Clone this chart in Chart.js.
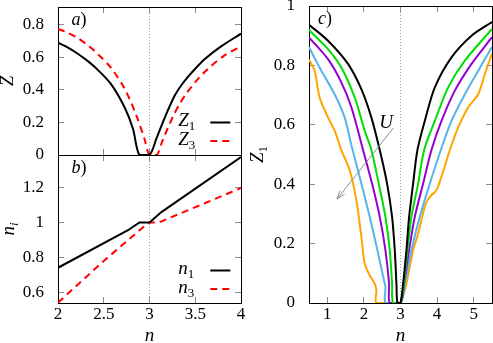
<!DOCTYPE html>
<html><head><meta charset="utf-8">
<script src="https://cdn.jsdelivr.net/npm/chart.js@4.4.1/dist/chart.umd.min.js"></script>
<style>
html,body{margin:0;padding:0;background:#fff;}
#wrap{position:relative;width:493px;height:343px;overflow:hidden;background:#fff}
canvas{position:absolute;top:0}
</style></head><body>
<div id="wrap">
<canvas id="ca" width="250" height="343" style="left:0"></canvas>
<canvas id="cb" width="250" height="343" style="left:0"></canvas>
<canvas id="cc" width="243" height="343" style="left:250px"></canvas>
</div>
<script>
// ---------- Panel a) : Z vs n ----------
const aZ1_n = [2.0, 2.1, 2.216, 2.33, 2.435, 2.58, 2.73, 2.82, 2.89, 3.0, 3.075, 3.167, 3.276, 3.35, 3.42, 3.5, 3.605, 3.79, 4.0];
const aZ1_v = [0.69, 0.662, 0.622, 0.575, 0.523, 0.435, 0.29, 0.16, 0.0, 0.0, 0.10, 0.23, 0.365, 0.43, 0.48, 0.53, 0.59, 0.67, 0.745];
const aZ3_n = [2.0, 2.1, 2.216, 2.33, 2.435, 2.58, 2.73, 2.855, 2.947, 3.0, 3.08, 3.14, 3.2, 3.26, 3.33, 3.4, 3.46, 3.55, 3.64, 3.82, 4.0];
const aZ3_v = [0.775, 0.752, 0.718, 0.672, 0.62, 0.535, 0.405, 0.245, 0.095, 0.0, 0.0, 0.085, 0.165, 0.24, 0.315, 0.375, 0.42, 0.48, 0.53, 0.612, 0.667];
const aXTicks = [2, 2.5, 3, 3.5, 4];
const aYTicks = [0, 0.2, 0.4, 0.6, 0.8];

// ---------- Panel b) : n_i vs n ----------
const bN1_n = [2.0, 2.765, 2.89, 3.0, 3.13, 4.0];
const bN1_v = [0.741, 0.956, 1.0, 1.0, 1.06, 1.375];
const bN3_n = [2.0, 2.5, 2.965, 3.0, 3.1, 4.0];
const bN3_v = [0.541, 0.78, 0.989, 1.0, 1.0, 1.198];
const bXTicks = [2, 2.5, 3, 3.5, 4];
const bYTicks = [0.6, 0.8, 1, 1.2];

// ---------- Panel c) : Z_1 vs n for increasing U ----------
const c0_n = [0.5, 1.019, 1.566, 1.93, 2.203, 2.433, 2.633, 2.77, 2.843, 2.889, 2.916, 3.0, 3.071, 3.162, 3.235, 3.345, 3.463, 3.664, 3.938, 4.393, 4.941, 5.5];
const c0_v = [0.937, 0.883, 0.805, 0.72, 0.625, 0.515, 0.402, 0.29, 0.178, 0.065, 0, 0, 0.065, 0.178, 0.29, 0.402, 0.515, 0.613, 0.726, 0.827, 0.9, 0.946];
const c1_n = [0.5, 1.019, 1.383, 1.749, 2.022, 2.205, 2.405, 2.588, 2.706, 2.77, 2.797, 3.0, 3.089, 3.19, 3.299, 3.482, 3.646, 3.938, 4.302, 4.758, 5.5];
const c1_v = [0.919, 0.855, 0.793, 0.692, 0.58, 0.515, 0.402, 0.29, 0.178, 0.065, 0, 0, 0.065, 0.178, 0.29, 0.402, 0.515, 0.613, 0.726, 0.816, 0.923];
const c2_n = [0.5, 1.019, 1.383, 1.658, 1.977, 2.223, 2.433, 2.588, 2.688, 2.706, 3.0, 3.098, 3.235, 3.39, 3.618, 3.846, 4.12, 4.485, 4.941, 5.5];
const c2_v = [0.894, 0.821, 0.743, 0.659, 0.515, 0.402, 0.29, 0.178, 0.065, 0, 0, 0.065, 0.178, 0.29, 0.402, 0.515, 0.613, 0.715, 0.805, 0.895];
const c3_n = [0.5, 0.837, 1.2, 1.474, 1.66, 1.931, 2.159, 2.368, 2.57, 2.588, 2.595, 3.0, 3.117, 3.299, 3.527, 3.801, 4.102, 4.393, 4.758, 5.123, 5.5];
const c3_v = [0.861, 0.782, 0.703, 0.625, 0.53, 0.402, 0.29, 0.178, 0.065, 0.054, 0, 0, 0.065, 0.178, 0.29, 0.402, 0.515, 0.613, 0.703, 0.782, 0.862];
const c4_n = [0.5, 0.654, 0.79, 1.019, 1.2, 1.383, 1.612, 1.794, 1.931, 2.022, 2.159, 2.296, 2.341, 2.346, 3.0, 3.01, 3.162, 3.254, 3.345, 3.482, 3.664, 3.737, 3.846, 3.983, 4.147, 4.348, 4.576, 4.85, 5.123, 5.306, 5.5];
const c4_v = [0.82, 0.782, 0.692, 0.625, 0.58, 0.515, 0.447, 0.346, 0.223, 0.133, 0.093, 0.065, 0.043, 0, 0, 0, 0.065, 0.122, 0.178, 0.234, 0.324, 0.346, 0.363, 0.38, 0.436, 0.515, 0.591, 0.659, 0.703, 0.771, 0.84];
const cColors = ['#000000', '#00dd00', '#9400d3', '#56b4e9', '#ffa500'];
const cXTicks = [1, 2, 3, 4, 5];
const cYTicks = [0, 0.2, 0.4, 0.6, 0.8, 1];
const cArrow = [2.81, 0.59, 1.265, 0.35];   // U arrow: from (n,Z) to (n,Z)
const cArrowLabel = [2.606, 0.588];         // position of "U"

// ---------- helpers ----------
const SERIF = '"Liberation Serif", "DejaVu Serif", serif';
const pts = (xs, ys) => xs.map((x, i) => ({x: x, y: ys[i]}));

function mathText(ctx, parts, x, y, align) {
  let w = 0;
  const items = parts.map(p => {
    const f = (p.it ? 'italic ' : '') + p.size + 'px ' + SERIF;
    ctx.font = f;
    const m = ctx.measureText(p.t).width;
    w += m + (p.gap || 0);
    return Object.assign({}, p, {f: f, w: m});
  });
  let cx = align === 'center' ? x - w / 2 : (align === 'right' ? x - w : x);
  ctx.textAlign = 'left';
  ctx.textBaseline = 'alphabetic';
  ctx.fillStyle = '#000';
  for (const it of items) {
    ctx.font = it.f;
    ctx.fillText(it.t, cx, y + (it.dy || 0));
    cx += it.w + (it.gap || 0);
  }
}
function parseLabel(s, size) {
  const sp = s.split('_');
  const parts = [{t: sp[0], it: true, size: size}];
  if (sp[1]) parts.push({t: sp[1], it: /[a-z]/.test(sp[1]), size: Math.round(size * 0.7), dy: size * 0.23, gap: 0});
  return parts;
}

const decor = {
  id: 'decor',
  beforeDatasetsDraw(chart, args, o) {
    const ctx = chart.ctx, a = chart.chartArea, x = chart.scales.x, y = chart.scales.y;
    ctx.save();
    if (o.vline != null) {
      const px = Math.floor(x.getPixelForValue(o.vline)) + 0.5;
      ctx.strokeStyle = '#9a9a9a'; ctx.lineWidth = 1; ctx.setLineDash([1, 2]);
      ctx.beginPath(); ctx.moveTo(px, a.top); ctx.lineTo(px, a.bottom); ctx.stroke();
      ctx.setLineDash([]);
    }
    ctx.strokeStyle = '#8a8a8a'; ctx.lineWidth = 1;
    ctx.beginPath();
    for (const v of o.xTicks) {
      const px = Math.floor(x.getPixelForValue(v)) + 0.5;
      ctx.moveTo(px, a.bottom); ctx.lineTo(px, a.bottom - 6);
      ctx.moveTo(px, a.top); ctx.lineTo(px, a.top + 6);
    }
    for (const v of o.yTicks) {
      const py = Math.floor(y.getPixelForValue(v)) + 0.5;
      ctx.moveTo(a.left, py); ctx.lineTo(a.left + 6, py);
      ctx.moveTo(a.right, py); ctx.lineTo(a.right - 6, py);
    }
    ctx.stroke();
    ctx.strokeStyle = '#000'; ctx.lineWidth = 1;
    const l = Math.floor(a.left) + 0.5, t = Math.floor(a.top) + 0.5;
    const r = Math.floor(a.right) + 0.5, b = Math.floor(a.bottom) + 0.5;
    ctx.strokeRect(l, t, r - l, b - t);
    ctx.restore();
  },
  afterDatasetsDraw(chart, args, o) {
    const ctx = chart.ctx, a = chart.chartArea, x = chart.scales.x, y = chart.scales.y;
    ctx.save();
    if (o.panel) mathText(ctx, o.panel.parts, a.left + o.panel.dx, a.top + 18, 'left');
    if (o.yTitle) {
      ctx.save();
      ctx.translate(o.yTitle.x, (a.top + a.bottom) / 2);
      ctx.rotate(-Math.PI / 2);
      mathText(ctx, parseLabel(o.yTitle.text, 19), 0, 0, 'center');
      ctx.restore();
    }
    if (o.xTitle) mathText(ctx, parseLabel(o.xTitle, 19), (a.left + a.right) / 2, 340.5, 'center');
    if (o.legend) {
      chart.data.datasets.forEach((ds, i) => {
        const ly = a.bottom - 32.5 + i * 18.5;
        mathText(ctx, parseLabel(ds.label, 19), a.right - 62.7, ly + 3.5, 'left');
        ctx.strokeStyle = ds.borderColor; ctx.lineWidth = ds.borderWidth;
        ctx.setLineDash(ds.borderDash || []);
        ctx.beginPath(); ctx.moveTo(a.right - 30.7, ly); ctx.lineTo(a.right - 10.7, ly); ctx.stroke();
        ctx.setLineDash([]);
      });
    }
    if (o.arrow) {
      const x0 = x.getPixelForValue(o.arrow[0]), y0 = y.getPixelForValue(o.arrow[1]);
      const x1 = x.getPixelForValue(o.arrow[2]), y1 = y.getPixelForValue(o.arrow[3]);
      const ang = Math.atan2(y1 - y0, x1 - x0);
      ctx.strokeStyle = '#8c8c8c'; ctx.lineWidth = 1;
      ctx.beginPath(); ctx.moveTo(x0, y0); ctx.lineTo(x1, y1);
      const hl = 9, ha = 0.33;
      ctx.moveTo(x1, y1); ctx.lineTo(x1 - hl * Math.cos(ang - ha), y1 - hl * Math.sin(ang - ha));
      ctx.moveTo(x1, y1); ctx.lineTo(x1 - hl * Math.cos(ang + ha), y1 - hl * Math.sin(ang + ha));
      ctx.stroke();
    }
    if (o.arrowLabel) {
      mathText(ctx, [{t: o.arrowLabel.text, it: true, size: 19}],
        x.getPixelForValue(o.arrowLabel.pos[0]), y.getPixelForValue(o.arrowLabel.pos[1]), 'center');
    }
    ctx.restore();
  }
};

Chart.defaults.font.family = SERIF;
Chart.defaults.font.size = 17;
Chart.defaults.color = '#000';

function axis(min, max, ticks, opt) {
  return Object.assign({
    type: 'linear', min: min, max: max,
    afterBuildTicks: s => { s.ticks = ticks.map(v => ({value: v})); },
    ticks: {callback: v => String(v), color: '#000', font: {family: SERIF, size: 17}, autoSkip: false, maxRotation: 0, padding: 14},
    grid: {display: false, drawTicks: false},
    border: {display: false},
    title: {display: false}
  }, opt);
}
function yAxis(min, max, ticks, width) {
  return axis(min, max, ticks, {
    afterFit: s => { s.width = width; s.paddingTop = 0; s.paddingBottom = 0; }
  });
}
function xAxis(min, max, ticks, height, show) {
  const ax = axis(min, max, ticks, {
    display: show,
    afterFit: s => { s.height = height; s.paddingLeft = 0; s.paddingRight = 0; }
  });
  ax.ticks = Object.assign({}, ax.ticks, {padding: 1});
  return ax;
}
function baseOptions(pad, scales, decorOpts, tension) {
  return {
    responsive: false, animation: false, events: [], devicePixelRatio: 1,
    layout: {padding: pad, autoPadding: false},
    scales: scales,
    plugins: {legend: {display: false}, tooltip: {enabled: false}, decor: decorOpts},
    elements: {point: {radius: 0}, line: {tension: tension, borderWidth: 2}}
  };
}

// ---------- chart a ----------
new Chart(document.getElementById('ca'), {
  type: 'line',
  data: {datasets: [
    {label: 'Z_1', data: pts(aZ1_n, aZ1_v), borderColor: '#000', borderWidth: 2, fill: false},
    {label: 'Z_3', data: pts(aZ3_n, aZ3_v), borderColor: '#ff0000', borderWidth: 2, borderDash: [7, 5], fill: false}
  ]},
  options: baseOptions({left: 0, top: 7, right: 9, bottom: 188},
    {x: xAxis(2, 4, aXTicks, 0, false), y: yAxis(0, 0.909, aYTicks, 58)},
    {xTicks: aXTicks, yTicks: aYTicks, vline: 3, legend: true,
     panel: {parts: [{t: 'a', it: true, size: 18}, {t: ')', it: false, size: 18}], dx: 13.5},
     yTitle: {text: 'Z', x: 13}}, 0.3),
  plugins: [decor]
});

// ---------- chart b ----------
new Chart(document.getElementById('cb'), {
  type: 'line',
  data: {datasets: [
    {label: 'n_1', data: pts(bN1_n, bN1_v), borderColor: '#000', borderWidth: 2, fill: false},
    {label: 'n_3', data: pts(bN3_n, bN3_v), borderColor: '#ff0000', borderWidth: 2, borderDash: [7, 5], fill: false}
  ]},
  options: baseOptions({left: 0, top: 155, right: 9, bottom: 0},
    {x: xAxis(2, 4, bXTicks, 40, true), y: yAxis(0.539, 1.387, bYTicks, 58)},
    {xTicks: bXTicks, yTicks: bYTicks, vline: 3, legend: true,
     panel: {parts: [{t: 'b', it: true, size: 18}, {t: ')', it: false, size: 18}], dx: 13.5},
     yTitle: {text: 'n_i', x: 14}, xTitle: 'n'}, 0),
  plugins: [decor]
});

// ---------- chart c ----------
const cSeries = [[c0_n, c0_v], [c1_n, c1_v], [c2_n, c2_v], [c3_n, c3_v], [c4_n, c4_v]];
new Chart(document.getElementById('cc'), {
  type: 'line',
  data: {datasets: cSeries.map((s, i) => ({
    label: 'U' + i, data: pts(s[0], s[1]), borderColor: cColors[i], borderWidth: 2, fill: false
  }))},
  options: baseOptions({left: 0, top: 6, right: 1, bottom: 0},
    {x: xAxis(0.5, 5.5, cXTicks, 40, true), y: yAxis(0, 1, cYTicks, 59)},
    {xTicks: cXTicks, yTicks: cYTicks, vline: 3,
     panel: {parts: [{t: 'c', it: true, size: 18}, {t: ')', it: false, size: 18}], dx: 9},
     yTitle: {text: 'Z_1', x: 13}, xTitle: 'n',
     arrow: cArrow, arrowLabel: {text: 'U', pos: cArrowLabel}}, 0.3),
  plugins: [decor]
});
</script>
</body></html>
